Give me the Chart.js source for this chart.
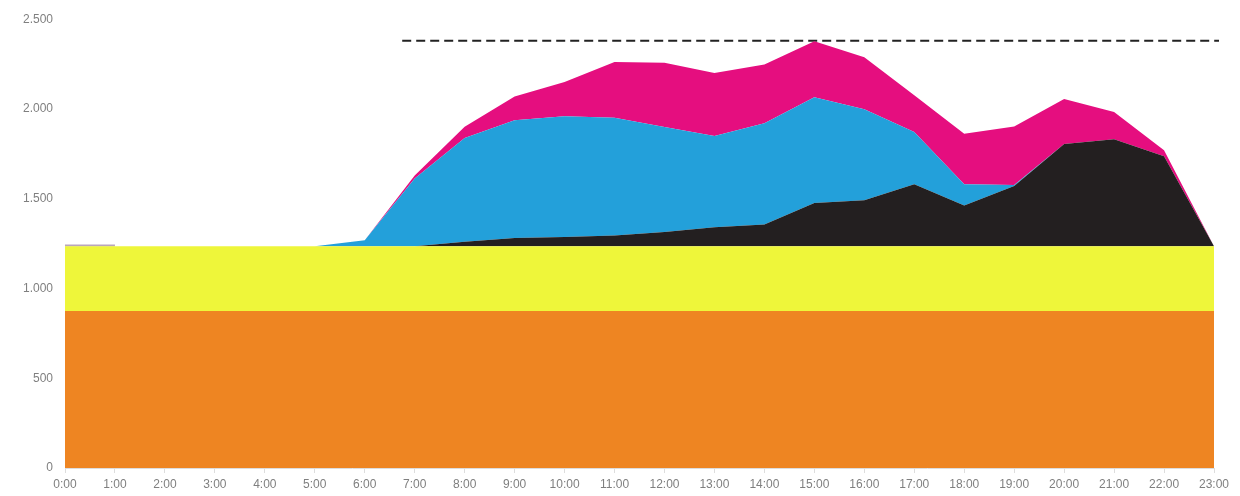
<!DOCTYPE html>
<html>
<head>
<meta charset="utf-8">
<script src="https://cdn.jsdelivr.net/npm/chart.js@4/dist/chart.umd.min.js"></script>
<style>
  html, body { margin: 0; padding: 0; background: #fff; }
  #wrap { width: 1240px; height: 496px; }
</style>
</head>
<body>
<div id="wrap"><canvas id="chart"></canvas></div>
<script>
// hours of the day (x axis)
const hours = [0, 1, 2, 3, 4, 5, 6, 7, 8, 9, 10, 11, 12, 13, 14, 15, 16, 17, 18, 19, 20, 21, 22, 23];

// stacked layers, bottom to top
const orange  = [875, 875, 875, 875, 875, 875, 875, 875, 875, 875, 875, 875, 875, 875, 875, 875, 875, 875, 875, 875, 875, 875, 875, 875];
const yellow  = [360, 360, 360, 360, 360, 360, 360, 360, 360, 360, 360, 360, 360, 360, 360, 360, 360, 360, 360, 360, 360, 360, 360, 360];
const black   = [0, 0, 0, 0, 0, 0, 0, 0, 25, 46, 52, 60, 80, 106, 121, 241, 256, 345, 227, 336, 570, 596, 501, 0];
const blue    = [0, 0, 0, 0, 0, 0, 33, 377, 578, 656, 672, 656, 584, 508, 565, 589, 507, 291, 118, 5, 0, 0, 0, 0];
const magenta = [0, 0, 0, 0, 0, 0, 0, 18, 63, 133, 191, 310, 359, 351, 327, 312, 290, 205, 282, 326, 251, 152, 34, 0];

// thin line at the start of the day
const purpleHours = [0, 1];
const purpleLine  = [1240, 1240];

// dashed limit line
const limitHours = [6.75, 23.1];
const limitLine  = [2380, 2380];

const yTicks = [0, 500, 1000, 1500, 2000, 2500];

function pts(xs, ys) {
    return xs.map((x, i) => ({ x: x, y: ys[i] }));
}

function layer(label, values, color, fill) {
    return {
        label: label,
        data: pts(hours, values),
        backgroundColor: color,
        borderColor: color,
        borderWidth: 0,
        pointRadius: 0,
        tension: 0,
        fill: fill,
        stack: 'main'
    };
}

function fmt(v) {
    return String(v).replace(/\B(?=(\d{3})+(?!\d))/g, '.');
}

const ctx = document.getElementById('chart').getContext('2d');

new Chart(ctx, {
    type: 'line',
    data: {
        datasets: [
            layer('orange', orange, '#ee8522', 'origin'),
            layer('yellow', yellow, '#eef63a', '-1'),
            layer('black', black, '#231f20', '-1'),
            layer('blue', blue, '#23a0da', '-1'),
            layer('magenta', magenta, '#e50e7f', '-1'),
            {
                label: 'purple',
                data: pts(purpleHours, purpleLine),
                borderColor: '#b9a6bb',
                borderWidth: 2,
                pointRadius: 0,
                fill: false,
                stack: 'p'
            },
            {
                label: 'limit',
                data: pts(limitHours, limitLine),
                borderColor: '#222',
                borderWidth: 2,
                borderDash: [9, 5],
                pointRadius: 0,
                fill: false,
                clip: false,
                stack: 'l'
            }
        ]
    },
    options: {
        responsive: true,
        maintainAspectRatio: false,
        animation: false,
        layout: {
            padding: { top: 13, right: 26, left: 0, bottom: 0 }
        },
        plugins: {
            legend: { display: false },
            tooltip: { enabled: false }
        },
        scales: {
            x: {
                type: 'linear',
                min: 0,
                max: 23,
                grid: {
                    display: true,
                    drawOnChartArea: false,
                    drawTicks: true,
                    tickLength: 5,
                    color: '#dddddd'
                },
                border: { display: true, color: '#dddddd' },
                ticks: {
                    stepSize: 1,
                    autoSkip: false,
                    maxRotation: 0,
                    padding: 4,
                    color: '#7f7f7f',
                    font: { family: 'Liberation Sans', size: 12 },
                    callback: v => v + ':00'
                },
                afterFit: s => { s.height = 28; }
            },
            y: {
                stacked: true,
                min: 0,
                max: 2500,
                afterBuildTicks: s => { s.ticks = yTicks.map(v => ({ value: v })); },
                grid: { display: false, drawTicks: false },
                border: { display: false },
                ticks: {
                    padding: 12,
                    color: '#7f7f7f',
                    font: { family: 'Liberation Sans', size: 12 },
                    callback: v => fmt(v)
                },
                afterFit: s => { s.width = 65; }
            }
        }
    }
});
</script>
</body>
</html>
